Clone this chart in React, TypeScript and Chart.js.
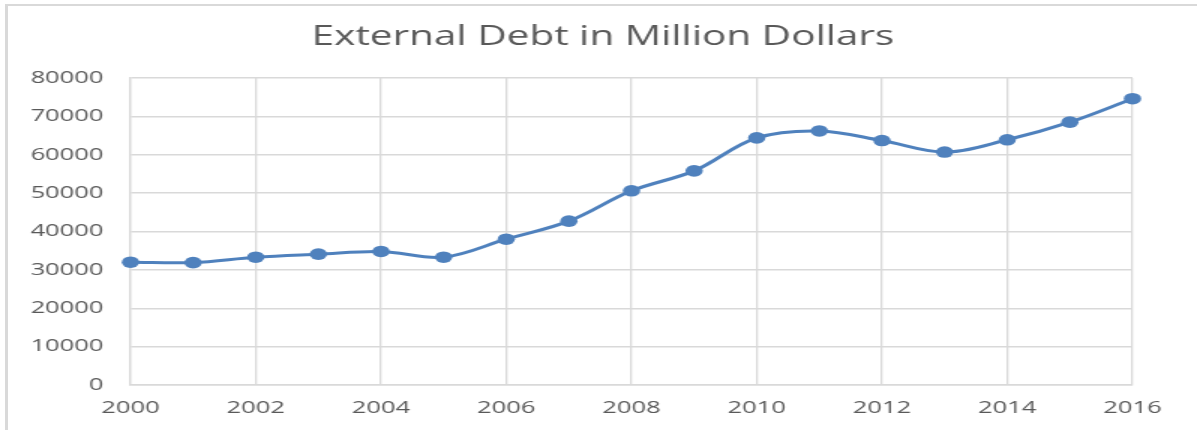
import React, { useEffect, useRef } from "react";
import { Chart, registerables } from "chart.js";

Chart.register(...registerables);

const title = "External Debt in Million Dollars";
const years = [2000, 2001, 2002, 2003, 2004, 2005, 2006, 2007, 2008, 2009, 2010, 2011, 2012, 2013, 2014, 2015, 2016];
const debt = [32000, 31900, 33300, 34100, 34800, 33300, 38000, 42700, 50600, 55800, 64400, 66200, 63700, 60700, 63900, 68500, 74600];
const xTicks = [2000, 2002, 2004, 2006, 2008, 2010, 2012, 2014, 2016];
const yTicks = [0, 10000, 20000, 30000, 40000, 50000, 60000, 70000, 80000];

const W = 1197;
const H = 430;
const SX = 1.5;
const CW = Math.round(W / SX);
const FONT = "'Open Sans', 'DejaVu Sans', sans-serif";
const TEXT = "#595959";
const GRID = "#d9d9d9";
const BLUE = "#4f81bd";

const titlePlugin = {
  id: "centeredTitle",
  afterDraw(chart: any) {
    const ctx = chart.ctx;
    ctx.save();
    ctx.font = `normal 27px ${FONT}`;
    ctx.fillStyle = TEXT;
    ctx.textAlign = "center";
    ctx.textBaseline = "middle";
    ctx.fillText(title, 402, 37);
    ctx.restore();
  },
};

export default function App() {
  const ref = useRef<HTMLCanvasElement | null>(null);

  useEffect(() => {
    if (!ref.current) return;
    const chart = new Chart(ref.current, {
      type: "line",
      data: {
        datasets: [
          {
            label: title,
            data: years.map((y, i) => ({ x: y, y: debt[i] })),
            borderColor: BLUE,
            backgroundColor: BLUE,
            borderWidth: 3,
            pointRadius: 5.8,
            pointBackgroundColor: BLUE,
            pointBorderColor: BLUE,
            pointBorderWidth: 0,
            tension: 0.35,
            clip: false as any,
          },
        ],
      },
      plugins: [titlePlugin],
      options: {
        animation: false,
        responsive: true,
        maintainAspectRatio: false,
        layout: { padding: { left: 0, right: 43, top: 78, bottom: 0 } },
        plugins: {
          legend: { display: false },
          tooltip: { enabled: false },
          title: { display: false },
        },
        scales: {
          x: {
            type: "linear",
            min: xTicks[0],
            max: xTicks[xTicks.length - 1],
            afterBuildTicks: (s: any) => {
              s.ticks = xTicks.map((v) => ({ value: v }));
            },
            afterFit: (s: any) => {
              s.height = 45;
            },
            ticks: {
              color: TEXT,
              font: { family: FONT, size: 17 },
              padding: 13,
              maxRotation: 0,
              autoSkip: false,
              callback: (v: any) => String(v),
            },
            grid: { color: GRID, lineWidth: 1.3, drawTicks: false },
            border: { display: true, color: GRID, width: 1.5 },
          },
          y: {
            min: yTicks[0],
            max: yTicks[yTicks.length - 1],
            afterBuildTicks: (s: any) => {
              s.ticks = yTicks.map((v) => ({ value: v }));
            },
            afterFit: (s: any) => {
              s.width = 87;
            },
            ticks: {
              color: TEXT,
              font: { family: FONT, size: 17 },
              padding: 18,
              autoSkip: false,
              callback: (v: any) => String(v),
            },
            grid: { color: GRID, lineWidth: 1.5, drawTicks: false },
            border: { display: true, color: GRID, width: 1.3 },
          },
        },
      },
    });
    return () => chart.destroy();
  }, []);

  return (
    <div
      style={{
        position: "fixed",
        left: 0,
        top: 0,
        width: W,
        height: H,
        overflow: "hidden",
        background: "#ffffff",
      }}
    >
      <div
        style={{
          position: "absolute",
          left: 5,
          top: 4,
          width: 3000,
          height: 2000,
          borderLeft: "3px solid #d9d9d9",
          borderTop: "2px solid #d9d9d9",
        }}
      />
      <div
        style={{
          position: "absolute",
          left: 0,
          top: 0,
          width: CW,
          height: H,
          transform: `scaleX(${SX})`,
          transformOrigin: "0 0",
        }}
      >
        <canvas ref={ref} style={{ display: "block" }} />
      </div>
    </div>
  );
}
